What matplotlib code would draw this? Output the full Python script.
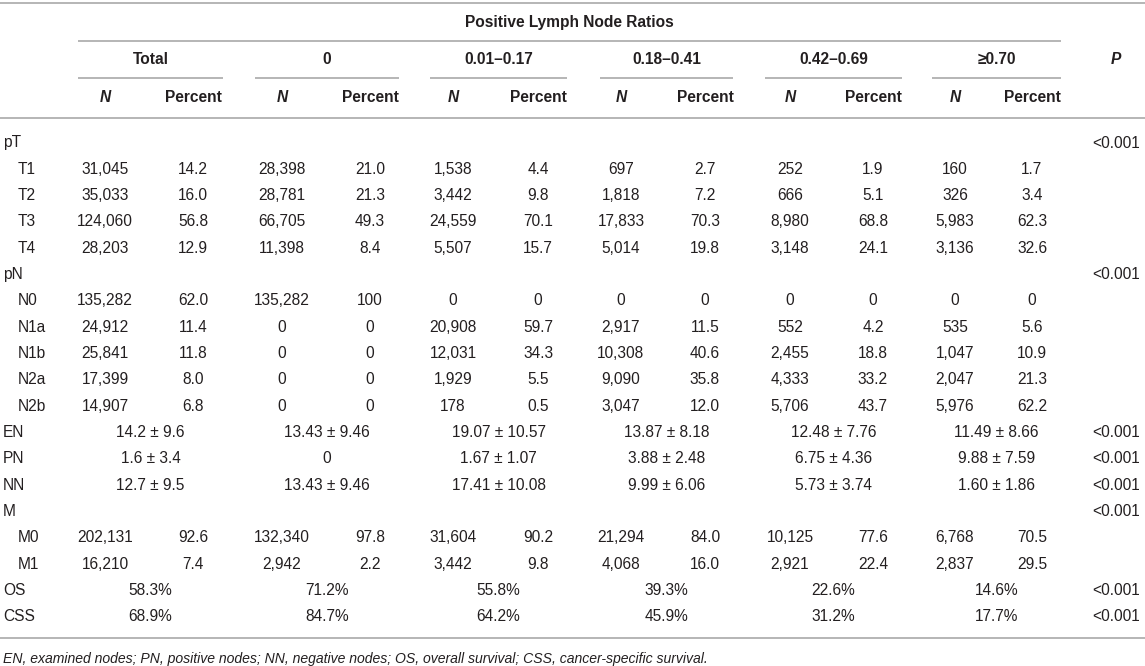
import matplotlib
matplotlib.use('Agg')
import matplotlib.pyplot as plt

# ---- table content ----
groups = ['Total', '0', '0.01–0.17', '0.18–0.41', '0.42–0.69', '≥0.70']

pt_labels = ['T1', 'T2', 'T3', 'T4']
pt_n = [[31045, 28398, 1538, 697, 252, 160],
        [35033, 28781, 3442, 1818, 666, 326],
        [124060, 66705, 24559, 17833, 8980, 5983],
        [28203, 11398, 5507, 5014, 3148, 3136]]
pt_pct = [['14.2', '21.0', '4.4', '2.7', '1.9', '1.7'],
          ['16.0', '21.3', '9.8', '7.2', '5.1', '3.4'],
          ['56.8', '49.3', '70.1', '70.3', '68.8', '62.3'],
          ['12.9', '8.4', '15.7', '19.8', '24.1', '32.6']]

pn_labels = ['N0', 'N1a', 'N1b', 'N2a', 'N2b']
pn_n = [[135282, 135282, 0, 0, 0, 0],
        [24912, 0, 20908, 2917, 552, 535],
        [25841, 0, 12031, 10308, 2455, 1047],
        [17399, 0, 1929, 9090, 4333, 2047],
        [14907, 0, 178, 3047, 5706, 5976]]
pn_pct = [['62.0', '100', '0', '0', '0', '0'],
          ['11.4', '0', '59.7', '11.5', '4.2', '5.6'],
          ['11.8', '0', '34.3', '40.6', '18.8', '10.9'],
          ['8.0', '0', '5.5', '35.8', '33.2', '21.3'],
          ['6.8', '0', '0.5', '12.0', '43.7', '62.2']]

node_labels = ['EN', 'PN', 'NN']
node_vals = [['14.2 ± 9.6', '13.43 ± 9.46', '19.07 ± 10.57', '13.87 ± 8.18', '12.48 ± 7.76', '11.49 ± 8.66'],
             ['1.6 ± 3.4', '0', '1.67 ± 1.07', '3.88 ± 2.48', '6.75 ± 4.36', '9.88 ± 7.59'],
             ['12.7 ± 9.5', '13.43 ± 9.46', '17.41 ± 10.08', '9.99 ± 6.06', '5.73 ± 3.74', '1.60 ± 1.86']]

m_labels = ['M0', 'M1']
m_n = [[202131, 132340, 31604, 21294, 10125, 6768],
       [16210, 2942, 3442, 4068, 2921, 2837]]
m_pct = [['92.6', '97.8', '90.2', '84.0', '77.6', '70.5'],
         ['7.4', '2.2', '9.8', '16.0', '22.4', '29.5']]

surv_labels = ['OS', 'CSS']
surv_vals = [['58.3%', '71.2%', '55.8%', '39.3%', '22.6%', '14.6%'],
             ['68.9%', '84.7%', '64.2%', '45.9%', '31.2%', '17.7%']]

p_text = '<0.001'
footnote = ('EN, examined nodes; PN, positive nodes; NN, negative nodes; '
            'OS, overall survival; CSS, cancer-specific survival.')

# ---- layout (pixels) ----
W, H = 1145, 666
plt.rcParams['font.family'] = ['Liberation Sans', 'DejaVu Sans']
FS = 11.2
TXT = '#231f20'
LINE = '#b0b0b0'

grp_span = [(78, 223), (255, 399), (430, 567), (600, 733), (765, 902), (932, 1061)]
n_x = [105, 282, 453, 621, 790, 955]
pct_x = [193, 370, 538, 705, 873, 1032]
p_x = 1116
lab_x, sub_x = 3, 18

fig = plt.figure(figsize=(W / 100, H / 100), dpi=100)
ax = fig.add_axes([0, 0, 1, 1])
ax.set_xlim(0, W)
ax.set_ylim(H, 0)
ax.axis('off')


def txt(x, y, s, ha='center', size=FS, **kw):
    ax.text(x, y, s, ha=ha, va='center', fontsize=size, color=TXT, **kw)


def hline(y, x0, x1):
    ax.plot([x0, x1], [y, y], color=LINE, lw=1.3, solid_capstyle='butt')


# header
hline(3, 0, W)
txt((grp_span[0][0] + grp_span[-1][1]) / 2, 23, 'Positive Lymph Node Ratios', fontweight='bold')
hline(41, grp_span[0][0], grp_span[-1][1])
for (a, b), g, nx, px in zip(grp_span, groups, n_x, pct_x):
    txt((a + b) / 2, 60, g, fontweight='bold')
    hline(78, a, b)
    txt(nx, 97, 'N', fontweight='bold', fontstyle='italic')
    txt(px, 97, 'Percent', fontweight='bold')
txt(p_x, 60, 'P', fontweight='bold', fontstyle='italic')
hline(118, 0, W)

# body
y0, dy = 143, 26.33
row = 0


def ypos():
    return y0 + row * dy


def count_block(title, labels, ns, pcts):
    global row
    txt(lab_x, ypos(), title, ha='left')
    txt(p_x, ypos(), p_text)
    row += 1
    for lab, nrow, prow in zip(labels, ns, pcts):
        txt(sub_x, ypos(), lab, ha='left')
        for nx, px, n, p in zip(n_x, pct_x, nrow, prow):
            txt(nx, ypos(), f'{n:,}')
            txt(px, ypos(), p)
        row += 1


def span_block(labels, vals):
    global row
    for lab, vrow in zip(labels, vals):
        txt(lab_x, ypos(), lab, ha='left')
        for (a, b), v in zip(grp_span, vrow):
            txt((a + b) / 2, ypos(), v)
        txt(p_x, ypos(), p_text)
        row += 1


count_block('pT', pt_labels, pt_n, pt_pct)
count_block('pN', pn_labels, pn_n, pn_pct)
span_block(node_labels, node_vals)
count_block('M', m_labels, m_n, m_pct)
span_block(surv_labels, surv_vals)

hline(638, 0, W)
txt(lab_x, 659, footnote, ha='left', size=FS * 0.9, fontstyle='italic')

fig.savefig('out.png', dpi=100)
